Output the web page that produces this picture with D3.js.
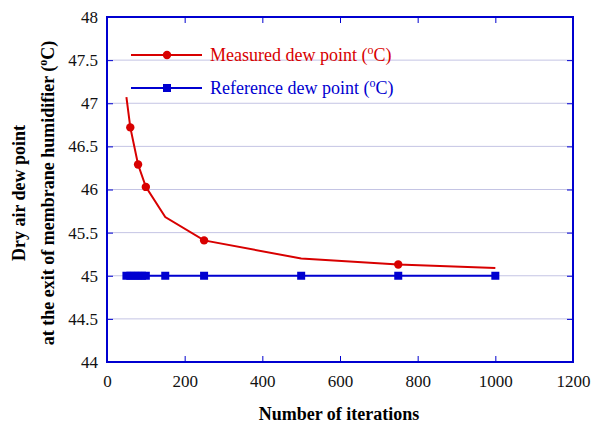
<!DOCTYPE html>
<html>
<head>
<meta charset="UTF-8">
<script src="https://d3js.org/d3.v7.min.js"></script>
<style>
  body { margin: 0; background: #fff; }
  svg text { font-family: "Liberation Serif", "Times New Roman", Times, serif; }
</style>
</head>
<body>
<svg id="chart" width="597" height="423"></svg>
<script>
// measured dew point line (iterations, °C)
const measuredIter = [50, 60, 80, 100, 150, 250, 500, 750, 1000];
const measuredVal = [47.07, 46.72, 46.29, 46.03, 45.68, 45.41, 45.20, 45.13, 45.09];
// iterations where the measured curve shows a marker
const measuredMarked = [60, 80, 100, 250, 750];
// reference dew point
const refIter = [50, 60, 70, 80, 90, 100, 150, 250, 500, 750, 1000];
const refVal = [45, 45, 45, 45, 45, 45, 45, 45, 45, 45, 45];

const xTicks = [0, 200, 400, 600, 800, 1000, 1200];
const yTicks = [44, 44.5, 45, 45.5, 46, 46.5, 47, 47.5, 48];

const serif = "Liberation Serif";
const margin = { top: 17, right: 24, bottom: 61, left: 107 };
const width = 597, height = 423;
const svg = d3.select("#chart");

const x = d3.scaleLinear().domain([0, 1200]).range([margin.left, width - margin.right]);
const y = d3.scaleLinear().domain([44, 48]).range([height - margin.bottom, margin.top]);

const blue = "#0000d0", red = "#d80000";

// grid lines
svg.append("g")
  .selectAll("line")
  .data(yTicks.slice(1, -1))
  .enter().append("line")
  .attr("x1", x(0)).attr("x2", x(1200))
  .attr("y1", d => y(d)).attr("y2", d => y(d))
  .attr("stroke", "#c4c4e4").attr("stroke-width", 1);

// axes with inward ticks
const fmt = d3.format("");
const xAxis = svg.append("g")
  .attr("transform", `translate(0,${y(44)})`)
  .call(d3.axisBottom(x).tickValues(xTicks).tickSizeInner(-6).tickSizeOuter(0).tickPadding(13).tickFormat(fmt));
const xTop = svg.append("g")
  .attr("transform", `translate(0,${y(48)})`)
  .call(d3.axisTop(x).tickValues(xTicks).tickSizeInner(-6).tickSizeOuter(0).tickFormat(""));
const yAxis = svg.append("g")
  .attr("transform", `translate(${x(0)},0)`)
  .call(d3.axisLeft(y).tickValues(yTicks).tickSizeInner(-6).tickSizeOuter(0).tickPadding(9).tickFormat(fmt));
const yRight = svg.append("g")
  .attr("transform", `translate(${x(1200)},0)`)
  .call(d3.axisRight(y).tickValues(yTicks).tickSizeInner(-6).tickSizeOuter(0).tickFormat(""));

[xAxis, xTop, yAxis, yRight].forEach(g => {
  g.attr("font-family", serif).attr("font-size", 17);
  g.select(".domain").remove();
  g.selectAll(".tick line").attr("stroke", blue);
  g.selectAll("text").attr("fill", "#111");
});

// frame
svg.append("rect")
  .attr("x", x(0)).attr("y", y(48))
  .attr("width", x(1200) - x(0)).attr("height", y(44) - y(48))
  .attr("fill", "none").attr("stroke", blue).attr("stroke-width", 2);

const line = d3.line().x(d => x(d[0])).y(d => y(d[1]));

// reference series
const refData = refIter.map((d, i) => [d, refVal[i]]);
svg.append("path").datum(refData)
  .attr("d", line).attr("fill", "none").attr("stroke", blue).attr("stroke-width", 2);
svg.selectAll(".refpt").data(refData).enter().append("rect")
  .attr("x", d => x(d[0]) - 4).attr("y", d => y(d[1]) - 4)
  .attr("width", 8).attr("height", 8).attr("fill", blue);

// measured series
const measData = measuredIter.map((d, i) => [d, measuredVal[i]]);
svg.append("path").datum(measData)
  .attr("d", line).attr("fill", "none").attr("stroke", red).attr("stroke-width", 2);
svg.selectAll(".measpt").data(measData.filter(d => measuredMarked.includes(d[0]))).enter().append("circle")
  .attr("cx", d => x(d[0])).attr("cy", d => y(d[1])).attr("r", 4.2).attr("fill", red);

// legend
const legend = [
  { name: "Measured dew point (", color: red, shape: "circle", y: 55 },
  { name: "Reference dew point (", color: blue, shape: "square", y: 88 }
];
legend.forEach(l => {
  svg.append("line").attr("x1", 131).attr("x2", 202).attr("y1", l.y).attr("y2", l.y)
    .attr("stroke", l.color).attr("stroke-width", 2);
  if (l.shape === "circle")
    svg.append("circle").attr("cx", 167).attr("cy", l.y).attr("r", 4.2).attr("fill", l.color);
  else
    svg.append("rect").attr("x", 163).attr("y", l.y - 4).attr("width", 8).attr("height", 8).attr("fill", l.color);
  const t = svg.append("text").attr("x", 210).attr("y", l.y + 6)
    .attr("fill", l.color).attr("font-family", serif).attr("font-size", 18);
  t.append("tspan").text(l.name);
  t.append("tspan").attr("dy", -7).attr("font-size", 12).text("o");
  t.append("tspan").attr("dy", 7).text("C)");
});

// axis titles
svg.append("text")
  .attr("x", 339).attr("y", 420)
  .attr("text-anchor", "middle").attr("font-family", serif).attr("font-size", 18).attr("font-weight", "bold")
  .text("Number of iterations");

const yt = svg.append("g").attr("transform", "translate(0,193) rotate(-90)");
yt.append("text").attr("x", 0).attr("y", 25)
  .attr("text-anchor", "middle").attr("font-family", serif).attr("font-size", 18).attr("font-weight", "bold")
  .text("Dry air dew point");
const yt2 = yt.append("text").attr("x", 0).attr("y", 54)
  .attr("text-anchor", "middle").attr("font-family", serif).attr("font-size", 18).attr("font-weight", "bold");
yt2.append("tspan").text("at the exit of membrane humidifier (");
yt2.append("tspan").attr("dy", -7).attr("font-size", 12).text("o");
yt2.append("tspan").attr("dy", 7).text("C)");
</script>
</body>
</html>
